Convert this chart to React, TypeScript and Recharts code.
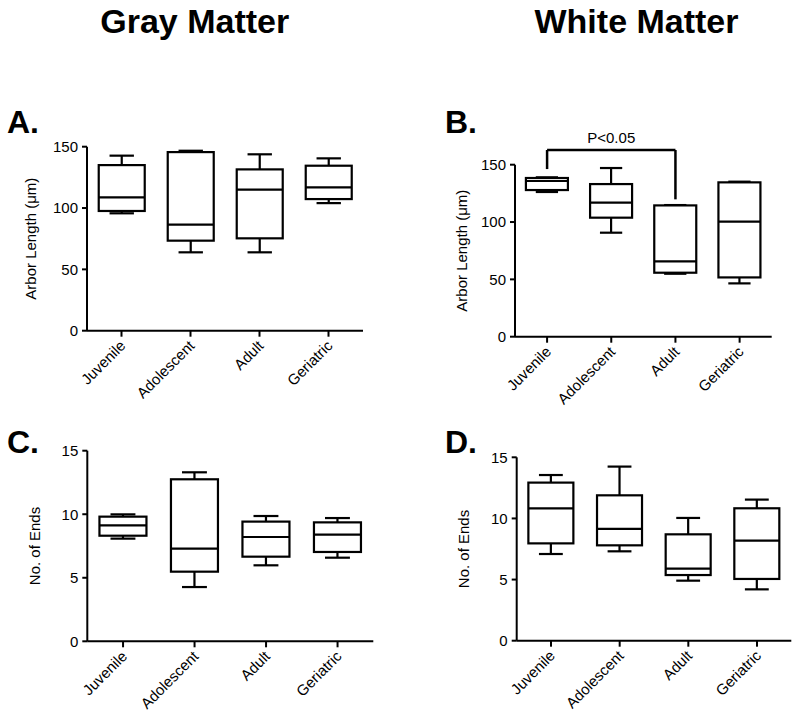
import { Bar, BarChart, ReferenceLine, XAxis, YAxis } from "recharts";

const groups = ["Juvenile", "Adolescent", "Adult", "Geriatric"];

// five-number summaries per group: [min, Q1, median, Q3, max]
const grayArbor = [
  [95.7, 97.6, 108.7, 135, 142.7],
  [63.9, 73.4, 86.4, 145.6, 146.7],
  [63.9, 75.3, 115, 131.5, 143.8],
  [104, 107.3, 116.8, 134.5, 140.5],
];
const whiteArbor = [
  [126.2, 127.9, 135.8, 138.4, 139],
  [90.7, 103.8, 116.9, 133.1, 147.1],
  [54.9, 55.8, 65.7, 114.5, 114.8],
  [46.5, 51.7, 100.3, 134.6, 135.2],
];
const grayEnds = [
  [8.08, 8.31, 9.13, 9.81, 9.99],
  [4.27, 5.48, 7.29, 12.75, 13.3],
  [5.98, 6.66, 8.21, 9.42, 9.86],
  [6.58, 7.03, 8.39, 9.36, 9.7],
];
const whiteEnds = [
  [7.09, 7.96, 10.83, 12.93, 13.55],
  [7.31, 7.8, 9.14, 11.89, 14.24],
  [4.91, 5.37, 5.89, 8.7, 10.04],
  [4.2, 5.05, 8.18, 10.83, 11.54],
];

const arborTicks = [0, 50, 100, 150];
const endsTicks = [0, 5, 10, 15];

// significance bracket on panel B (Juvenile vs Adult)
const sigFrom = "Juvenile";
const sigTo = "Adult";
const sigLabel = "P<0.05";
const sigTop = 162.8;
const sigFromBottom = 146.2;
const sigToBottom = 119.8;

const FONT = '"Liberation Sans", Arial, sans-serif';
const TXT = 15;

function toRows(stats: number[][]) {
  return groups.map((g, i) => ({ group: g, stats: stats[i], range: [stats[i][0], stats[i][4]] }));
}

function BoxShape(props: any) {
  const { x, y, width, height, payload } = props;
  if (!payload) return null;
  const [min, q1, med, q3, max] = payload.stats;
  const top = Math.min(y, y + height);
  const bottom = Math.max(y, y + height);
  const ppu = max > min ? (bottom - top) / (max - min) : 0;
  const py = (v: number) => bottom - (v - min) * ppu;
  const cx = x + width / 2;
  const cap = width * 0.53;
  const s = { stroke: "#000", strokeWidth: 2.2 };
  return (
    <g>
      <line x1={cx} x2={cx} y1={py(max)} y2={py(q3)} {...s} />
      <line x1={cx - cap / 2} x2={cx + cap / 2} y1={py(max)} y2={py(max)} {...s} />
      <line x1={cx} x2={cx} y1={py(q1)} y2={py(min)} {...s} />
      <line x1={cx - cap / 2} x2={cx + cap / 2} y1={py(min)} y2={py(min)} {...s} />
      <rect x={x} y={py(q3)} width={width} height={py(q1) - py(q3)} fill="#fff" {...s} />
      <line x1={x} x2={x + width} y1={py(med)} y2={py(med)} {...s} />
    </g>
  );
}

function CategoryTick({ x, y, payload }: any) {
  const px = x + 5;
  const py = y + 10;
  return (
    <text
      x={px}
      y={py}
      transform={`rotate(-45, ${px}, ${py})`}
      textAnchor="end"
      fontSize={TXT}
      fontFamily={FONT}
      fill="#000"
    >
      {payload.value}
    </text>
  );
}

interface PanelProps {
  left: number;
  top: number;
  width: number;
  height: number;
  // plot area in page coordinates
  x0: number;
  x1: number;
  y0: number;
  y1: number;
  titleX: number;
  title: string;
  data: number[][];
  max: number;
  ticks: number[];
  bracket?: boolean;
}

function Panel(p: PanelProps) {
  const axisH = 80;
  const margin = {
    top: p.y0 - p.top,
    left: 0,
    right: p.left + p.width - p.x1,
    bottom: p.top + p.height - p.y1 - axisH,
  };
  const yAxisW = p.x0 - p.left;
  const titleCx = p.titleX - p.left + 3.5;
  const titleCy = (p.y0 + p.y1) / 2 - p.top;
  const line = { stroke: "#000", strokeWidth: 2 };
  return (
    <div style={{ position: "absolute", left: p.left, top: p.top }}>
      <BarChart
        width={p.width}
        height={p.height}
        data={toRows(p.data)}
        margin={margin}
        barCategoryGap="17%"
      >
        <XAxis
          dataKey="group"
          height={axisH}
          interval={0}
          tickSize={6}
          tickMargin={0}
          axisLine={line}
          tickLine={line}
          tick={(t: any) => <CategoryTick {...t} />}
        />
        <YAxis
          width={yAxisW}
          domain={[0, p.max]}
          ticks={p.ticks}
          tickSize={5}
          tickMargin={4}
          axisLine={line}
          tickLine={line}
          tick={{ fill: "#000", fontSize: TXT, fontFamily: FONT }}
          label={() => (
            <text
              x={titleCx}
              y={titleCy}
              transform={`rotate(-90, ${titleCx}, ${titleCy})`}
              textAnchor="middle"
              fontSize={TXT}
              fontFamily={FONT}
              fill="#000"
            >
              {p.title}
            </text>
          )}
        />
        <Bar
          dataKey="range"
          isAnimationActive={false}
          shape={(b: any) => <BoxShape {...b} />}
        />
        {p.bracket && (
          <ReferenceLine
            segment={[
              { x: sigFrom, y: sigTop },
              { x: sigTo, y: sigTop },
            ]}
            ifOverflow="visible"
            stroke="#000"
            strokeWidth={2.5}
            label={{ value: sigLabel, position: "top", offset: 7, fill: "#000", fontSize: TXT, fontFamily: FONT }}
          />
        )}
        {p.bracket && (
          <ReferenceLine
            segment={[
              { x: sigFrom, y: sigFromBottom },
              { x: sigFrom, y: sigTop },
            ]}
            ifOverflow="visible"
            stroke="#000"
            strokeWidth={2.5}
          />
        )}
        {p.bracket && (
          <ReferenceLine
            segment={[
              { x: sigTo, y: sigToBottom },
              { x: sigTo, y: sigTop },
            ]}
            ifOverflow="visible"
            stroke="#000"
            strokeWidth={2.5}
          />
        )}
      </BarChart>
    </div>
  );
}

export default function App() {
  return (
    <div
      style={{
        position: "absolute",
        left: 0,
        top: 0,
        width: 800,
        height: 716,
        background: "#fff",
        fontFamily: FONT,
        overflow: "hidden",
      }}
    >
      <Panel left={0} top={80} width={400} height={340} x0={87} x1={363} y0={146.7} y1={330.7}
        titleX={32.7} title="Arbor Length (μm)" data={grayArbor} max={150} ticks={arborTicks} />
      <Panel left={400} top={80} width={400} height={340} x0={515} x1={771.7} y0={164.7} y1={336.7}
        titleX={464} title="Arbor Length (μm)" data={whiteArbor} max={150} ticks={arborTicks} bracket />
      <Panel left={0} top={400} width={400} height={316} x0={87.3} x1={373.3} y0={450.7} y1={641.3}
        titleX={36.3} title="No. of Ends" data={grayEnds} max={15} ticks={endsTicks} />
      <Panel left={400} top={400} width={400} height={316} x0={516.7} x1={791.3} y0={457.3} y1={640.7}
        titleX={465.8} title="No. of Ends" data={whiteEnds} max={15} ticks={endsTicks} />
      <svg
        width={800}
        height={716}
        style={{ position: "absolute", left: 0, top: 0, pointerEvents: "none" }}
      >
        <g fontFamily={FONT} fontWeight="bold" fill="#000">
          <text x={194.7} y={32.7} fontSize={34} textAnchor="middle">Gray Matter</text>
          <text x={636.5} y={32.7} fontSize={34} textAnchor="middle">White Matter</text>
          <text x={7} y={133} fontSize={32}>A.</text>
          <text x={445} y={133} fontSize={32}>B.</text>
          <text x={7} y={453} fontSize={32}>C.</text>
          <text x={445} y={453} fontSize={32}>D.</text>
        </g>
      </svg>
    </div>
  );
}
